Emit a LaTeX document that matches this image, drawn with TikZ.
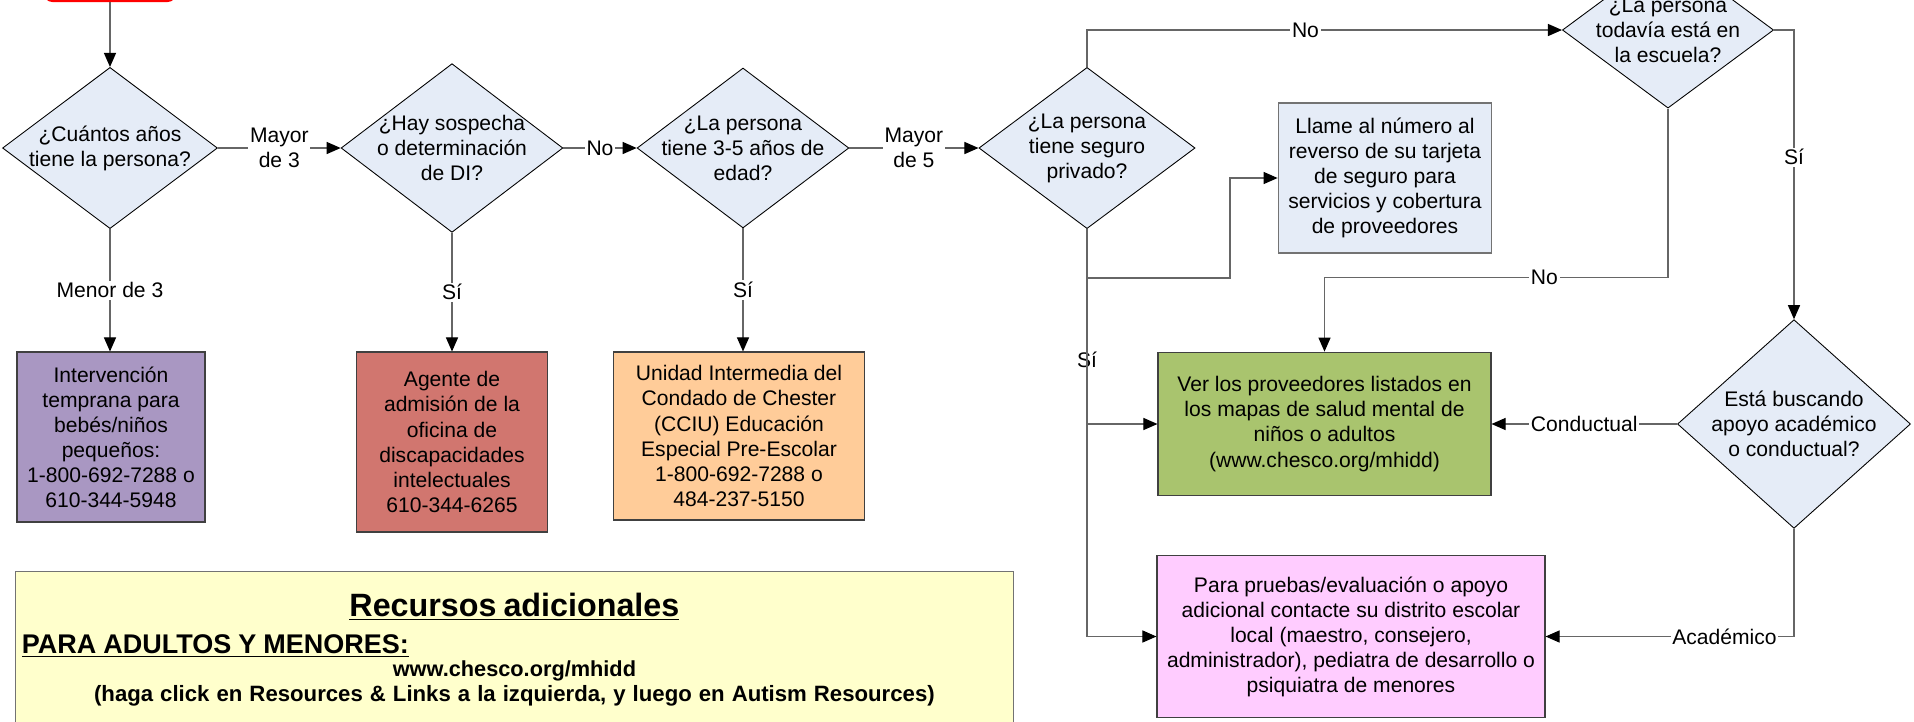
\documentclass[tikz,border=0pt]{standalone}
\usepackage{fontspec}
\setmainfont{Liberation Sans}
\usepackage{tikz}
\usetikzlibrary{shapes.geometric,arrows.meta}

\definecolor{askfill}{RGB}{229,236,247}
\definecolor{infantfill}{RGB}{169,151,194}
\definecolor{officefill}{RGB}{209,118,111}
\definecolor{cciufill}{RGB}{255,204,153}
\definecolor{mapsfill}{RGB}{169,196,110}
\definecolor{districtfill}{RGB}{255,204,255}
\definecolor{extrafill}{RGB}{255,255,204}

\newcommand{\flowfont}{\fontsize{9.6}{11.4}\selectfont}

\begin{document}
\begin{tikzpicture}[x=0.016cm, y=-0.016cm,
			box/.style={rectangle, draw=black!75, line width=0.5pt, align=center, inner sep=0pt, font=\flowfont},
			decision/.style={diamond, draw=black, line width=0.4pt, fill=askfill, align=center, inner sep=-1cm, font=\flowfont},
			arrow/.style={draw=black!60, line width=0.5pt, -{Triangle[length=6.4pt,width=5.5pt,color=black]}},
			lbl/.style={fill=white, inner sep=0.8pt, align=center, font=\flowfont}
		]
		\useasboundingbox (0,0) rectangle (1914,721);

		% Start (cut off at the top)
		\node[draw=red, line width=1pt, rounded corners=4pt, minimum width=2.11cm, minimum height=0.64cm] (start) at (110,-19) {};

		% Questions
		\node[decision, minimum width=3.44cm, minimum height=2.58cm] (age) at (110,148) {¿Cuántos años\\tiene la persona?};
		\node[decision, minimum width=3.55cm, minimum height=2.7cm] (suspect) at (452,148) {¿Hay sospecha\\o determinación\\de DI?};
		\node[decision, minimum width=3.39cm, minimum height=2.56cm] (preschool) at (743,148) {¿La persona\\tiene 3-5 años de\\edad?};
		\node[decision, minimum width=3.46cm, minimum height=2.58cm] (insured) at (1087,148) {¿La persona\\tiene seguro\\privado?};
		\node[decision, minimum width=3.38cm, minimum height=2.5cm] (inschool) at (1668,30) {¿La persona\\todavía está en\\la escuela?};
		\node[decision, minimum width=3.73cm, minimum height=3.34cm] (support) at (1794,424) {Está buscando\\apoyo académico\\o conductual?};

		% Services
		\node[box, fill=infantfill, minimum width=3.01cm, minimum height=2.72cm] (infant) at (111,437) {Intervención\\temprana para\\bebés/niños\\pequeños:\\1-800-692-7288 o\\610-344-5948};
		\node[box, fill=officefill, minimum width=3.07cm, minimum height=2.88cm] (idoffice) at (452,442) {Agente de\\admisión de la\\oficina de\\discapacidades\\intelectuales\\610-344-6265};
		\node[box, fill=cciufill, minimum width=4.03cm, minimum height=2.69cm] (cciu) at (739,436) {Unidad Intermedia del\\Condado de Chester\\(CCIU) Educación\\Especial Pre-Escolar\\1-800-692-7288 o\\484-237-5150};
		\node[box, fill=askfill, draw=black!55, minimum width=3.42cm, minimum height=2.4cm] (card) at (1385,178) {Llame al número al\\reverso de su tarjeta\\de seguro para\\servicios y cobertura\\de proveedores};
		\node[box, fill=mapsfill, minimum width=5.33cm, minimum height=2.3cm] (maps) at (1324.5,424) {Ver los proveedores listados en\\los mapas de salud mental de\\niños o adultos\\(www.chesco.org/mhidd)};
		\node[box, fill=districtfill, minimum width=6.21cm, minimum height=2.58cm] (district) at (1351,636.5) {Para pruebas/evaluación o apoyo\\adicional contacte su distrito escolar\\local (maestro, consejero,\\administrador), pediatra de desarrollo o\\psiquiatra de menores};

		% Extra resources (runs off the bottom)
		\node[box, fill=extrafill, draw=black!55, anchor=north west, minimum width=15.97cm, minimum height=2.5cm, text width=15.77cm, inner xsep=0.1cm] (extra) at (15,571) {%
			\fontsize{14.7}{17}\selectfont\bfseries\underline{Recursos adicionales}\\
			\fontsize{12.3}{17}\selectfont\makebox[\hsize][l]{\underline{PARA ADULTOS Y MENORES:}}\\
			\fontsize{9.9}{10.6}\selectfont www.chesco.org/mhidd\\
			\fontsize{10.1}{9.8}\selectfont (haga click en Resources \& Links a la izquierda, y luego en Autism Resources)};

		% Connectors
		\draw[arrow] (start.south) -- (age.north);
		\draw[arrow] (age.east) -- node[lbl]{Mayor\\de 3} (suspect.west);
		\draw[arrow] (suspect.east) -- node[lbl]{No} (preschool.west);
		\draw[arrow] (preschool.east) -- node[lbl]{Mayor\\de 5} (insured.west);
		\draw[arrow] (age.south) -- node[lbl]{Menor de 3} (age.south |- infant.north);
		\draw[arrow] (suspect.south) -- node[lbl]{Sí} (suspect.south |- idoffice.north);
		\draw[arrow] (preschool.south) -- node[lbl]{Sí} (preschool.south |- cciu.north);
		\draw[arrow] (insured.north) |- node[lbl, pos=0.73]{No} (inschool.west);
		\draw[arrow] (insured.south) |- node[pos=0.16, font=\flowfont]{Sí} (district.west);
		\draw[arrow] (insured.south) |- (maps.west);
		\draw[arrow] (insured.south) ++(0,49) -- ++(143,0) |- (card.west);
		\draw[arrow] (inschool.south) -- ++(0,169) -| node[lbl, pos=0.18]{No} (maps.north);
		\draw[arrow] (inschool.east) -| node[lbl, pos=0.72]{Sí} (support.north);
		\draw[arrow] (support.west) -- node[lbl]{Conductual} (maps.east);
		\draw[arrow] (support.south) |- node[lbl, pos=0.64]{Académico} (district.east);

	\end{tikzpicture}
\end{document}
